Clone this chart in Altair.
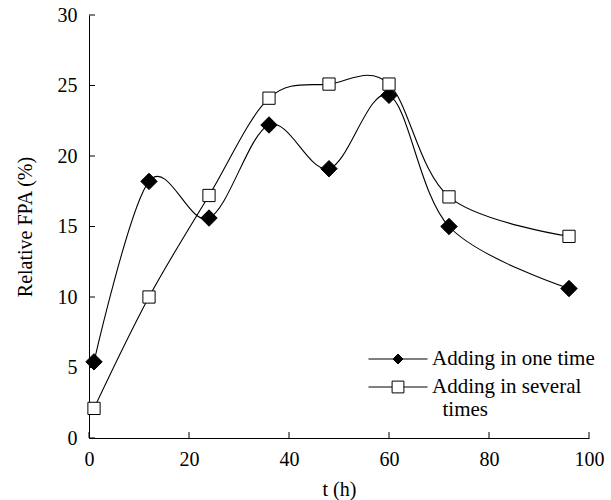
import altair as alt
import pandas as pd

# ---- data ----
hours = [1, 12, 24, 36, 48, 60, 72, 96]
one_time = [5.4, 18.2, 15.6, 22.2, 19.1, 24.3, 15.0, 10.6]
several_times = [2.1, 10.0, 17.2, 24.1, 25.1, 25.1, 17.1, 14.3]
series_names = ["Adding in one time", "Adding in several times"]
x_ticks = [0, 20, 40, 60, 80, 100]
y_ticks = [0, 5, 10, 15, 20, 25, 30]

rows = []
for t, a, b in zip(hours, one_time, several_times):
    rows.append({"t": t, "v": a, "series": series_names[0]})
    rows.append({"t": t, "v": b, "series": series_names[1]})
df = pd.DataFrame(rows)

FONT = "Liberation Serif"
W, H = 500, 423

xscale = alt.Scale(domain=[0, 100], nice=False, zero=False)
yscale = alt.Scale(domain=[0, 30], nice=False, zero=False)
xaxis = alt.Axis(values=x_ticks, tickSize=0, labelPadding=11, titlePadding=10,
                 domainColor="black", labelColor="black", titleColor="black",
                 grid=False, labelFlush=False)
yaxis = alt.Axis(values=y_ticks, tickSize=0, labelPadding=12, titlePadding=22,
                 domainColor="black", labelColor="black", titleColor="black",
                 grid=False)

def X(field):
    return alt.X(f"{field}:Q", scale=xscale, axis=xaxis, title="t (h)")

def Y(field):
    return alt.Y(f"{field}:Q", scale=yscale, axis=yaxis, title="Relative FPA (%)")

base = alt.Chart(df)

lines = base.mark_line(interpolate="cardinal", color="black", strokeWidth=1.1).encode(
    x=X("t"), y=Y("v"), detail="series:N"
)

points = base.mark_point(filled=True, stroke="black", strokeWidth=1, opacity=1).encode(
    x=X("t"), y=Y("v"),
    shape=alt.Shape("series:N", scale=alt.Scale(domain=series_names, range=["diamond", "square"]), legend=None),
    fill=alt.Fill("series:N", scale=alt.Scale(domain=series_names, range=["black", "white"]), legend=None),
    size=alt.Size("series:N", scale=alt.Scale(domain=series_names, range=[270, 150]), legend=None),
)

leg_diamond = "M-1,0H-0.17M0.17,0H1M-0.17,0L0,-0.17L0.17,0L0,0.17Z"
leg_square = "M-1,0H-0.2M0.2,0H1M-0.2,-0.2H0.2V0.2H-0.2Z"
legend = alt.Legend(
    title=None, orient="none", legendX=279, legendY=334, padding=0,
    symbolSize=3481, symbolStrokeWidth=1, symbolStrokeColor="black",
    labelFont=FONT, labelFontSize=21, labelColor="black", labelLimit=400,
    labelOffset=4, rowPadding=7, clipHeight=20,
    labelExpr="datum.label == 'Adding in several times' ? ['Adding in several', '\u200b\u00a0\u00a0times'] : datum.label",
)
legend_layer = base.transform_filter("false").mark_point(
    filled=True, strokeWidth=1, opacity=1, size=3481
).encode(
    x=X("t"), y=Y("v"),
    shape=alt.Shape("series:N", scale=alt.Scale(domain=series_names, range=[leg_diamond, leg_square]), legend=legend),
    fill=alt.Fill("series:N", scale=alt.Scale(domain=series_names, range=["black", "white"]), legend=legend),
    stroke=alt.Stroke("series:N", scale=alt.Scale(domain=series_names, range=["black", "black"]), legend=legend),
)

ytick_df = pd.DataFrame({"yt": y_ticks})
xtick_df = pd.DataFrame({"xt": x_ticks})
yticks = alt.Chart(ytick_df).mark_rule(color="black", strokeWidth=1).encode(
    y=Y("yt"), x=alt.value(0), x2=alt.value(6)
)
xticks = alt.Chart(xtick_df).mark_rule(color="black", strokeWidth=1).encode(
    x=X("xt"), y=alt.value(H), y2=alt.value(H - 6)
)

chart = alt.layer(lines, yticks, xticks, points, legend_layer).resolve_scale(
    shape="independent", fill="independent", stroke="independent"
).properties(
    width=W, height=H,
    autosize=alt.AutoSizeParams(type="none"),
    padding={"left": 89, "top": 15, "right": 22, "bottom": 62},
).configure(background="white").configure_view(stroke=None).configure_axis(
    labelFont=FONT, titleFont=FONT, labelFontSize=20, titleFontSize=20,
    titleFontWeight="normal", domainWidth=1,
)

chart.save("out.html", embed_options={"renderer": "svg", "actions": False})
